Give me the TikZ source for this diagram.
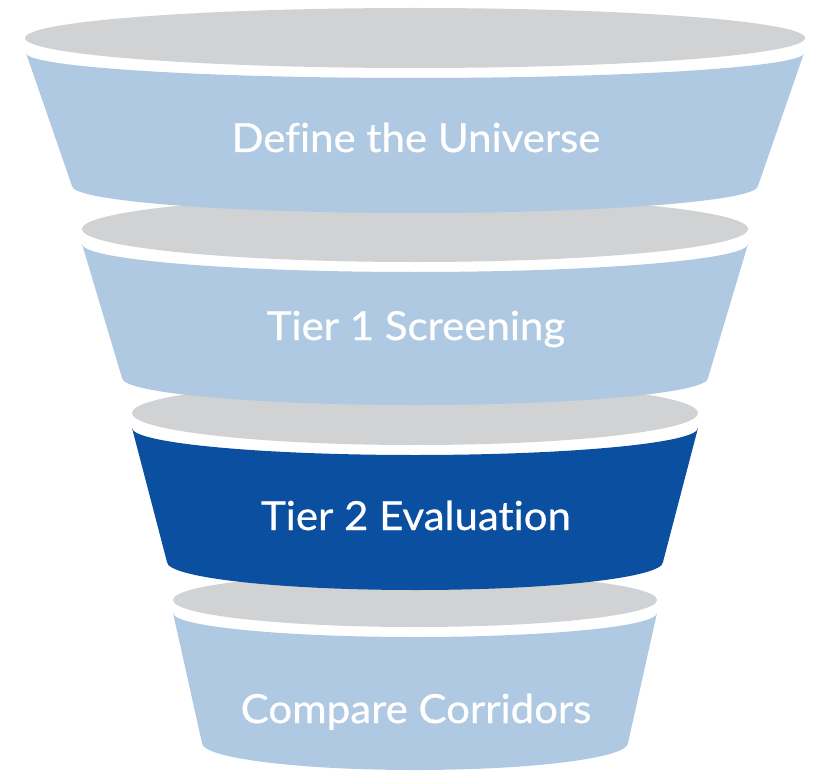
\documentclass[tikz,border=0pt]{standalone}
\usepackage{fontspec}
\setmainfont{Lato}
\newfontfamily\labelfont[FakeBold=0.6, FakeStretch=1.05, Ligatures=NoCommon]{Lato}
\definecolor{lightband}{HTML}{B0C9E2}
\definecolor{darkband}{HTML}{0A4FA0}
\definecolor{rimgray}{HTML}{D1D2D4}
\tikzset{
  rim/.style={fill=rimgray, draw=none},
  band/.style={fill=lightband, draw=none},
  darkbandstyle/.style={fill=darkband, draw=none},
  label/.style={text=white, anchor=base, inner sep=0pt, font=\labelfont\fontsize{40}{46}\selectfont}
}
\begin{document}
\begin{tikzpicture}[x=1pt, y=-1pt]
\useasboundingbox (0,0) rectangle (822,773);
% Tier 4
\fill[rim] (415,600) ellipse [x radius=242, y radius=27];
\fill[band] (173,613) arc[start angle=180, end angle=0, x radius=242, y radius=24]
  -- (628,743) arc[start angle=0, end angle=180, x radius=213, y radius=27] -- cycle;
% Tier 3
\fill[rim] (415,413) ellipse [x radius=283, y radius=32];
\fill[darkbandstyle] (132,428) arc[start angle=180, end angle=0, x radius=283, y radius=27]
  -- (663,562) arc[start angle=0, end angle=180, x radius=248, y radius=28] -- cycle;
% Tier 2
\fill[rim] (415,229) ellipse [x radius=333, y radius=33];
\fill[band] (82,244) arc[start angle=180, end angle=0, x radius=333, y radius=28]
  -- (708,378) arc[start angle=0, end angle=180, x radius=293, y radius=27] -- cycle;
% Tier 1
\fill[rim] (415,38) ellipse [x radius=390, y radius=30];
\fill[band] (26,53) arc[start angle=180, end angle=0, x radius=389, y radius=25]
  -- (758,186) arc[start angle=0, end angle=180, x radius=343, y radius=27] -- cycle;
% Labels
\node[label] (t1) at (416,152) {Define the Universe};
\node[label] (t2) at (416,340) {Tier 1 Screening};
\node[label] (t3) at (416,530) {Tier 2 Evaluation};
\node[label] (t4) at (416,723) {Compare Corridors};
\end{tikzpicture}
\end{document}
